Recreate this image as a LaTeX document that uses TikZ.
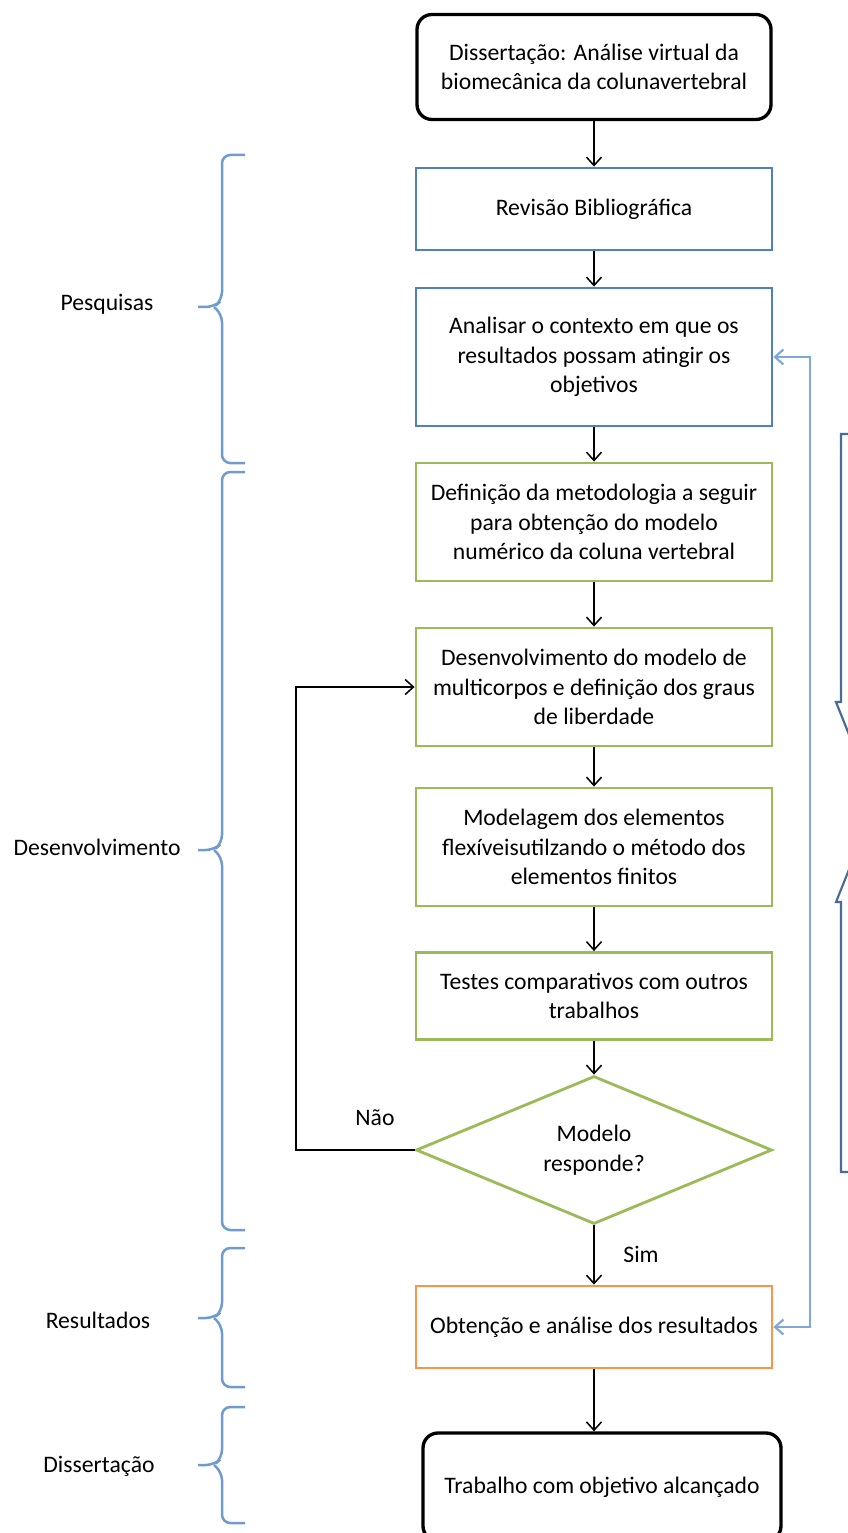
\documentclass[tikz,border=0pt]{standalone}
\usepackage{fontspec}
\setmainfont{Carlito}
\usetikzlibrary{shapes.geometric,arrows.meta}
\definecolor{boxblue}{HTML}{4F81BD}
\definecolor{boxgreen}{HTML}{9BBB59}
\definecolor{boxorange}{HTML}{F79646}
\definecolor{braceblue}{HTML}{6F9BD1}
\definecolor{lineblue}{HTML}{7EA7DA}
\definecolor{blockblue}{HTML}{4A6B98}
\begin{document}
\begin{tikzpicture}[x=0.6pt,y=-0.6pt,
    txt/.style={font=\fontsize{14.2pt}{17.8pt}\selectfont, align=center},
    box/.style={txt, draw, line width=1.7pt, minimum width=213.6pt, inner sep=1pt},
    roundbox/.style={box, black, text=black, rounded corners=9pt, line width=2pt},
    bluebox/.style={box, boxblue, text=black},
    greenbox/.style={box, boxgreen, text=black},
    orangebox/.style={box, boxorange, text=black},
    flow/.style={-{Straight Barb[length=5pt,width=9pt]}, line width=0.9pt, black},
    bracket/.style={braceblue, line width=1.5pt, rounded corners=5pt},
    blockarrow/.style={draw=blockblue, fill=white, line width=1.3pt, line join=miter}]
    \useasboundingbox (0,0) rectangle (848,1533);
    \clip (0,0) rectangle (848,1533);
    % fluxo principal
    \node[roundbox, minimum height=63pt, minimum width=212.4pt] (inicio) at (594,67) {Dissertação: Análise virtual da\\biomecânica da colunavertebral};
    \node[bluebox, minimum height=49.2pt] (revisao) at (594,209) {Revisão Bibliográfica};
    \node[bluebox, minimum height=82.8pt] (analisar) at (594,357) {Analisar o contexto em que os\\resultados possam atingir os\\objetivos};
    \node[greenbox, minimum height=70.8pt] (metodo) at (594,522) {Definição da metodologia a seguir\\para obtenção do modelo\\numérico da coluna vertebral};
    \node[greenbox, minimum height=70.8pt] (multicorpos) at (594,687) {Desenvolvimento do modelo de\\multicorpos e definição dos graus\\de liberdade};
    \node[greenbox, minimum height=70.8pt] (elementos) at (594,847) {Modelagem dos elementos\\flexíveisutilzando o método dos\\elementos finitos};
    \node[greenbox, minimum height=52.2pt] (testes) at (594,996) {Testes comparativos com outros\\trabalhos};
    \node[txt, diamond, aspect=2.4, draw=boxgreen, line width=1.7pt, inner sep=0pt,
          minimum width=213.6pt, minimum height=88.8pt] (decisao) at (594,1150) {Modelo\\responde?};
    \node[orangebox, minimum height=49.2pt] (obtencao) at (594,1327) {Obtenção e análise dos resultados};
    \node[roundbox, minimum height=64.8pt, minimum width=214.8pt] (fim) at (602,1487) {Trabalho com objetivo alcançado};
    \draw[flow] (inicio) -- (revisao);
    \draw[flow] (revisao) -- (analisar);
    \draw[flow] (analisar) -- (metodo);
    \draw[flow] (metodo) -- (multicorpos);
    \draw[flow] (multicorpos) -- (elementos);
    \draw[flow] (elementos) -- (testes);
    \draw[flow] (testes) -- (decisao);
    \draw[flow] (decisao) -- (obtencao);
    \draw[flow] (obtencao.south) -- (obtencao.south |- fim.north);
    % laco de volta
    \coordinate (voltaNao) at (296,1150);
    \draw[flow] (decisao.west) -- (voltaNao) |- (multicorpos.west);
    \node[txt] (nao) at (375,1118) {Não};
    \node[txt] (sim) at (641,1254) {Sim};
    % retorno azul
    \coordinate (retorno) at (810,1327);
    \draw[lineblue, line width=1.3pt, {Straight Barb[length=5pt,width=9pt]}-{Straight Barb[length=5pt,width=9pt]}]
        (analisar.east) -| (retorno) -- (obtencao.east);
    % chaves
    \draw[bracket] (245,155) -- (222,155) -- (222,300) -- (214,307) -- (198,307);
    \draw[bracket] (245,463) -- (222,463) -- (222,314) -- (214,307);
    \draw[bracket] (245,472) -- (222,472) -- (222,843) -- (214,850) -- (198,850);
    \draw[bracket] (245,1230) -- (222,1230) -- (222,857) -- (214,850);
    \draw[bracket] (245,1248) -- (222,1248) -- (222,1311) -- (214,1318) -- (198,1318);
    \draw[bracket] (245,1387) -- (222,1387) -- (222,1325) -- (214,1318);
    \draw[bracket] (245,1407) -- (222,1407) -- (222,1458) -- (214,1465) -- (198,1465);
    \draw[bracket] (245,1523) -- (222,1523) -- (222,1472) -- (214,1465);
    \node[txt] (pesquisas) at (107,304) {Pesquisas};
    \node[txt] (desenvolvimento) at (97,847) {Desenvolvimento};
    \node[txt] (resultados) at (98,1320) {Resultados};
    \node[txt] (dissertacao) at (99,1466) {Dissertação};
    % setas largas na borda
    \draw[blockarrow] (841,434) -- (871,434) -- (871,702) -- (876,702) -- (856,752) -- (836,702) -- (841,702) -- cycle;
    \draw[blockarrow] (841,1172) -- (871,1172) -- (871,902) -- (876,902) -- (856,852) -- (836,902) -- (841,902) -- cycle;
\end{tikzpicture}
\end{document}
